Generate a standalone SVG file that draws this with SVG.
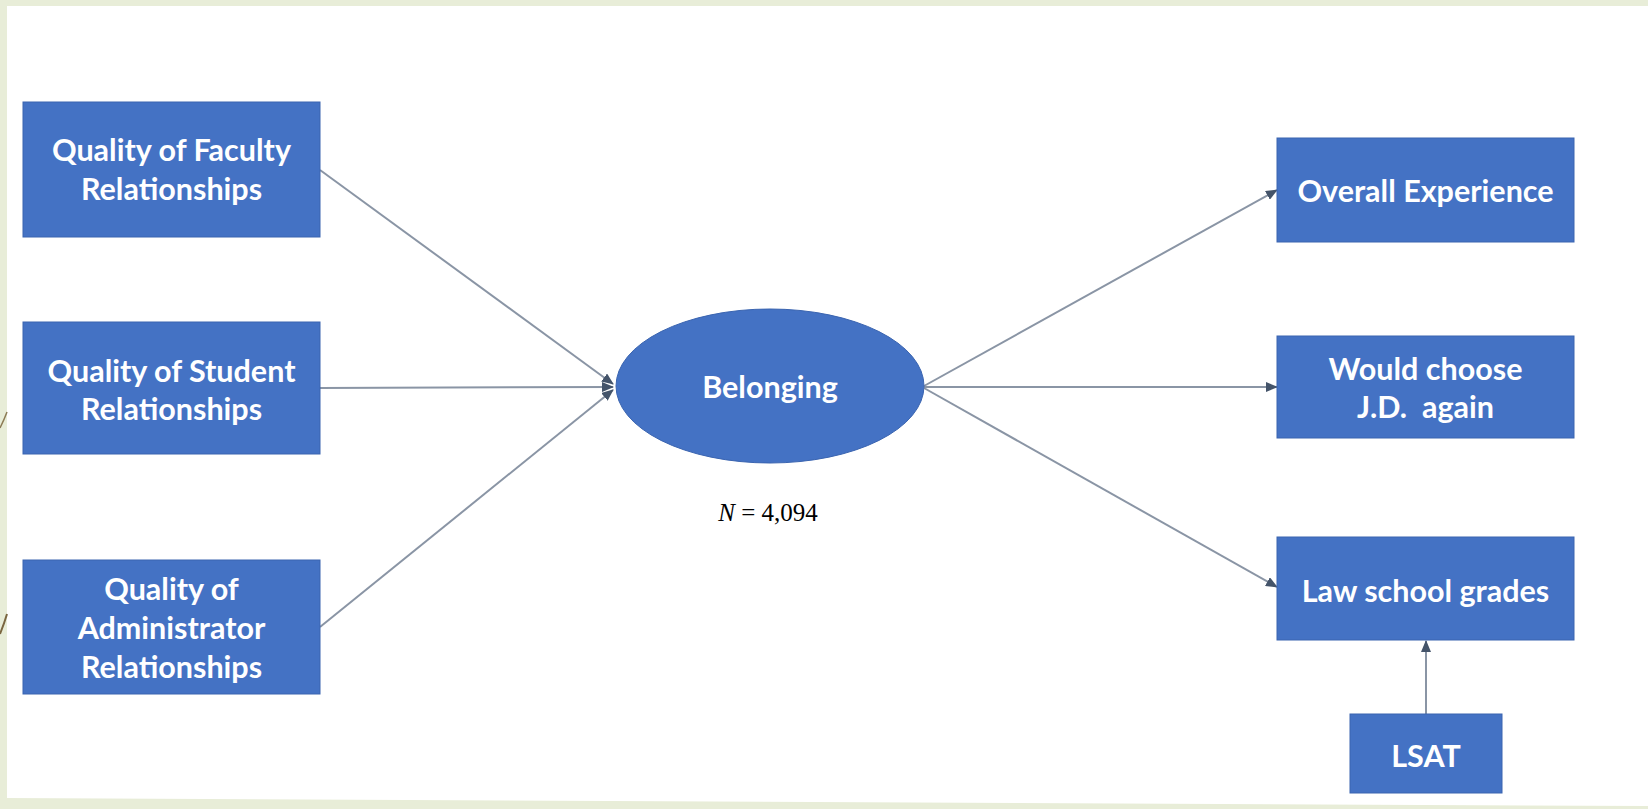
<svg xmlns="http://www.w3.org/2000/svg" width="1648" height="809" viewBox="0 0 1648 809">
  <style>
    .box { fill: #4472C4; stroke: #3A64B0; stroke-width: 1; }
    .lbl { font-family: Lato, "Open Sans", "Liberation Sans", sans-serif; font-size: 30.5px; font-weight: bold; fill: #ffffff; text-anchor: middle; }
    .conn { stroke: #8A95A5; stroke-width: 2; fill: none; }
  </style>
  <defs>
    <marker id="arrow" markerUnits="userSpaceOnUse" markerWidth="12" markerHeight="10" refX="11" refY="5" orient="auto">
      <path d="M0,0 L12,5 L0,10 z" fill="#44546A"/>
    </marker>
  </defs>
  <rect x="0" y="0" width="1648" height="809" fill="#E8EDD8"/>
  <polygon points="7,6 1648,6 1648,806 7,798" fill="#ffffff"/>
  <path d="M0,428 Q4,420 7,412" stroke="#8C7B55" stroke-width="1.5" fill="none"/>
  <path d="M0,634 Q4,624 7,614" stroke="#7A6640" stroke-width="2" fill="none"/>

  <g id="connectors">
    <line class="conn" x1="320" y1="170" x2="613" y2="384" marker-end="url(#arrow)"/>
    <line class="conn" x1="320" y1="388" x2="613" y2="387" marker-end="url(#arrow)"/>
    <line class="conn" x1="320" y1="627" x2="613" y2="390" marker-end="url(#arrow)"/>
    <line class="conn" x1="924" y1="386" x2="1277" y2="190" marker-end="url(#arrow)"/>
    <line class="conn" x1="924" y1="387" x2="1277" y2="387" marker-end="url(#arrow)"/>
    <line class="conn" x1="924" y1="388" x2="1277" y2="587" marker-end="url(#arrow)"/>
    <line class="conn" x1="1426" y1="714" x2="1426" y2="641" marker-end="url(#arrow)"/>
  </g>

  <g id="faculty">
    <rect class="box" x="23" y="102" width="297" height="135"/>
    <text class="lbl" x="171.5" y="161">Quality of Faculty</text>
    <text class="lbl" x="171.5" y="200">Relationships</text>
  </g>
  <g id="student">
    <rect class="box" x="23" y="322" width="297" height="132"/>
    <text class="lbl" x="171.5" y="382">Quality of Student</text>
    <text class="lbl" x="171.5" y="420">Relationships</text>
  </g>
  <g id="administrator">
    <rect class="box" x="23" y="560" width="297" height="134"/>
    <text class="lbl" x="171.5" y="600">Quality of</text>
    <text class="lbl" x="171.5" y="639">Administrator</text>
    <text class="lbl" x="171.5" y="678">Relationships</text>
  </g>
  <g id="belonging">
    <ellipse class="box" cx="770" cy="386" rx="154" ry="77"/>
    <text class="lbl" x="770" y="398">Belonging</text>
  </g>
  <g id="overall">
    <rect class="box" x="1277" y="138" width="297" height="104"/>
    <text class="lbl" x="1425.5" y="202">Overall Experience</text>
  </g>
  <g id="would-choose">
    <rect class="box" x="1277" y="336" width="297" height="102"/>
    <text class="lbl" x="1425.5" y="380">Would choose</text>
    <text class="lbl" x="1425.5" y="418" xml:space="preserve">J.D.  again</text>
  </g>
  <g id="grades">
    <rect class="box" x="1277" y="537" width="297" height="103"/>
    <text class="lbl" x="1425.5" y="602">Law school grades</text>
  </g>
  <g id="lsat">
    <rect class="box" x="1350" y="714" width="152" height="79"/>
    <text class="lbl" x="1426" y="767">LSAT</text>
  </g>
  <g id="n-label">
    <text x="768" y="521" font-family="'Liberation Serif', serif" font-size="25" fill="#000000" text-anchor="middle"><tspan font-style="italic">N</tspan> = 4,094</text>
  </g>
</svg>
